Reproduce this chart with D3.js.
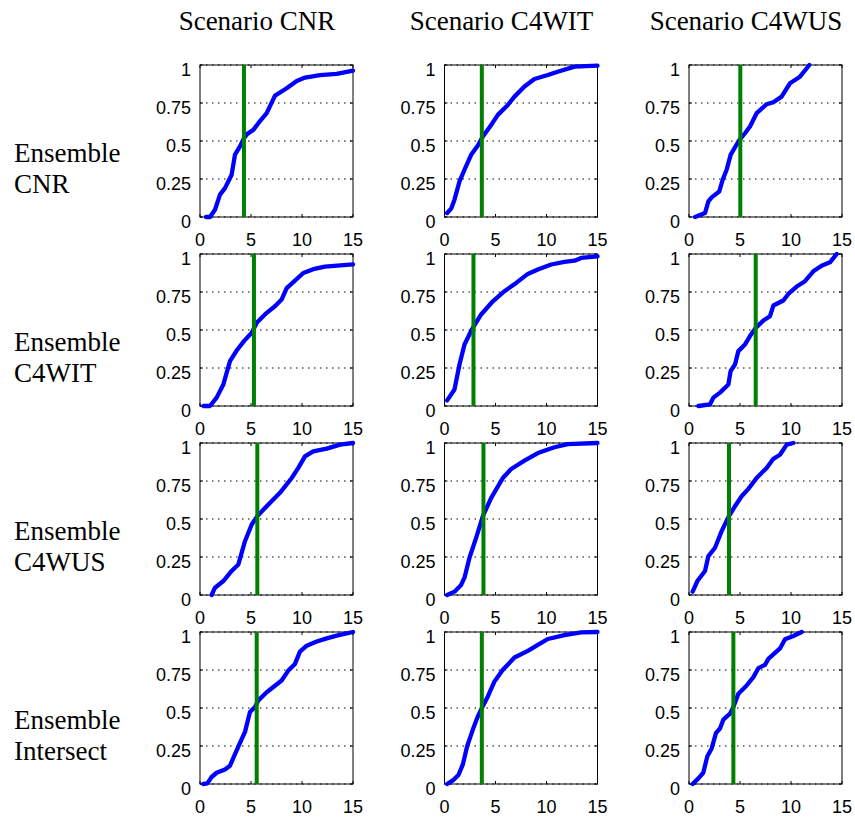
<!DOCTYPE html>
<meta charset="utf-8">
<style>
body { margin: 0; background: #fff; }
.tick-label { font-family: "Liberation Sans", Arial, sans-serif; font-size: 18px; fill: #000; }
.title { font-family: "Liberation Serif", "Times New Roman", serif; font-size: 27px; fill: #000; }
.grid { stroke: #000; stroke-width: 1; stroke-dasharray: 1.5,4.5; }
.frame { fill: none; stroke: #000; stroke-width: 1; }
.cdf { fill: none; stroke: #0000ff; stroke-width: 4.3; stroke-linejoin: round; stroke-linecap: round; }
.median { stroke: #008000; stroke-width: 4; }
</style>
<svg width="855" height="823"></svg>
<script src="https://cdn.jsdelivr.net/npm/d3@7"></script>
<script>
var colTitles = ["Scenario CNR", "Scenario C4WIT", "Scenario C4WUS"];
var rowTitles = [["Ensemble", "CNR"], ["Ensemble", "C4WIT"], ["Ensemble", "C4WUS"], ["Ensemble", "Intersect"]];
var xTicks = [0, 5, 10, 15];
var yTicks = [0, 0.25, 0.5, 0.75, 1];
var yTickLabels = ["0", "0.25", "0.5", "0.75", "1"];

// cdf curves, [x, y] pairs, row = ensemble, col = scenario
var cnr_cnr = [[0.59,0],[0.98,0],[1.47,0.048],[1.96,0.147],[2.45,0.19],[3.1,0.278],[3.43,0.41],[3.92,0.464],[4.31,0.519],[4.64,0.547],[5.23,0.573],[5.72,0.617],[6.54,0.683],[7.35,0.799],[8.5,0.847],[9.48,0.895],[10.3,0.917],[11.76,0.934],[13.4,0.941],[15,0.963]];
var cnr_c4wit = [[0.26,0.026],[0.65,0.055],[0.98,0.114],[1.47,0.234],[1.96,0.311],[2.61,0.409],[3.27,0.47],[3.76,0.53],[4.58,0.606],[5.23,0.672],[6.21,0.737],[6.86,0.792],[7.84,0.858],[8.82,0.908],[10.13,0.934],[11.1,0.956],[12.75,0.989],[15,0.996]];
var cnr_c4wus = [[0.59,0],[1.57,0.026],[1.9,0.103],[2.22,0.129],[2.97,0.168],[3.3,0.245],[3.69,0.311],[4.08,0.409],[4.84,0.497],[5.49,0.551],[5.98,0.595],[6.63,0.683],[7.61,0.742],[8.27,0.755],[9.08,0.792],[9.9,0.88],[10.88,0.923],[11.8,1]];
var c4wit_cnr = [[0.33,0],[0.98,0],[1.63,0.055],[2.29,0.142],[2.94,0.295],[3.59,0.365],[4.31,0.427],[5.07,0.482],[5.56,0.547],[6.54,0.613],[7.35,0.656],[8.0,0.7],[8.5,0.776],[9.31,0.825],[10.13,0.875],[11.1,0.9],[12.25,0.917],[15,0.932]];
var c4wit_c4wit = [[0.26,0.037],[0.98,0.109],[1.47,0.273],[1.96,0.405],[2.68,0.503],[3.59,0.602],[4.74,0.689],[5.88,0.755],[7.03,0.81],[8.17,0.869],[9.15,0.898],[10.46,0.931],[11.76,0.948],[12.75,0.956],[13.4,0.974],[15,0.985]];
var c4wit_c4wus = [[0.92,0],[2.06,0.011],[2.39,0.055],[3.04,0.088],[3.86,0.142],[4.08,0.23],[4.51,0.273],[4.84,0.361],[5.49,0.405],[5.98,0.46],[6.54,0.514],[7.29,0.562],[7.94,0.591],[8.27,0.661],[9.25,0.694],[9.74,0.737],[10.56,0.786],[11.37,0.821],[12.19,0.886],[13.0,0.923],[13.82,0.945],[14.48,1]];
var c4wus_cnr = [[1.14,0],[1.47,0.048],[2.29,0.092],[3.1,0.158],[3.76,0.201],[4.41,0.354],[5.07,0.464],[5.62,0.519],[6.54,0.584],[7.84,0.672],[8.99,0.77],[9.64,0.836],[10.29,0.912],[11.1,0.945],[12.42,0.963],[13.73,0.989],[15,1]];
var c4wus_c4wit = [[0.26,0],[0.98,0.022],[1.63,0.066],[1.96,0.114],[2.45,0.245],[3.1,0.376],[3.76,0.519],[4.58,0.639],[5.72,0.77],[6.54,0.829],[7.84,0.884],[9.15,0.934],[10.78,0.972],[12.09,0.993],[15,1]];
var c4wus_c4wus = [[0.36,0.022],[0.82,0.092],[1.57,0.158],[1.9,0.256],[2.55,0.311],[3.2,0.42],[3.86,0.512],[4.51,0.584],[5.16,0.65],[5.82,0.698],[6.63,0.77],[7.61,0.836],[8.27,0.896],[8.92,0.923],[9.58,0.989],[10.23,1]];
var inter_cnr = [[0.33,0],[0.72,0.004],[1.14,0.046],[1.63,0.074],[2.45,0.096],[2.94,0.12],[3.27,0.172],[3.92,0.271],[4.41,0.343],[4.9,0.474],[5.39,0.507],[5.72,0.55],[6.54,0.604],[8.0,0.681],[8.66,0.746],[9.31,0.79],[9.8,0.871],[10.46,0.91],[11.44,0.937],[12.42,0.958],[13.4,0.976],[15,1]];
var inter_c4wit = [[0.26,0],[0.82,0.024],[1.37,0.059],[1.8,0.129],[2.22,0.249],[2.78,0.358],[3.27,0.445],[3.69,0.504],[4.25,0.576],[4.9,0.675],[5.72,0.751],[6.86,0.832],[8.17,0.876],[9.15,0.915],[10.13,0.954],[11.76,0.98],[13.4,0.998],[15,1]];
var inter_c4wus = [[0.36,0],[0.92,0.037],[1.4,0.074],[1.8,0.183],[2.22,0.234],[2.65,0.336],[3.04,0.365],[3.37,0.424],[4.02,0.463],[4.35,0.507],[4.84,0.594],[5.65,0.648],[6.31,0.703],[6.8,0.762],[7.45,0.784],[7.78,0.823],[8.92,0.892],[9.41,0.952],[10.23,0.974],[11.05,1]];

var curves = [
  [cnr_cnr, cnr_c4wit, cnr_c4wus],
  [c4wit_cnr, c4wit_c4wit, c4wit_c4wus],
  [c4wus_cnr, c4wus_c4wit, c4wus_c4wus],
  [inter_cnr, inter_c4wit, inter_c4wus]
];
// median (green line) per panel
var medians = [
  [4.31, 3.66, 5.03],
  [5.29, 2.84, 6.54],
  [5.62, 3.82, 3.92],
  [5.56, 3.66, 4.35]
];

var svg = d3.select("svg"),
    left0 = 200, top0 = 65,
    colStep = 244.5, rowStep = 189,
    width = 153, height = 152;

var x = d3.scaleLinear().domain([0, 15]).range([0, width]),
    y = d3.scaleLinear().domain([0, 1]).range([height, 0]);

var line = d3.line()
    .x(function(d) { return x(d[0]); })
    .y(function(d) { return y(d[1]); });

// column titles
svg.selectAll(".col-title")
  .data(colTitles)
  .enter().append("text")
    .attr("class", "title")
    .attr("x", function(d, i) { return left0 + i * colStep + 57; })
    .attr("y", 30)
    .attr("text-anchor", "middle")
    .text(function(d) { return d; });

// row titles
rowTitles.forEach(function(lines, r) {
  var t = svg.append("text")
      .attr("class", "title")
      .attr("x", 14)
      .attr("y", top0 + r * rowStep + 97);
  t.append("tspan").attr("x", 14).text(lines[0]);
  t.append("tspan").attr("x", 14).attr("dy", 31).text(lines[1]);
});

curves.forEach(function(row, r) {
  row.forEach(function(data, c) {
    var g = svg.append("g")
        .attr("transform", "translate(" + (left0 + c * colStep) + "," + (top0 + r * rowStep) + ")");

    g.selectAll(".grid")
      .data(yTicks)
      .enter().append("line")
        .attr("class", "grid")
        .attr("x1", 0)
        .attr("x2", width)
        .attr("y1", function(d) { return y(d); })
        .attr("y2", function(d) { return y(d); });

    g.append("rect")
        .attr("class", "frame")
        .attr("x", 0)
        .attr("y", 0)
        .attr("width", width)
        .attr("height", height);

    // inward ticks on all four sides
    g.selectAll(".xt")
      .data(xTicks)
      .enter().append("path")
        .attr("stroke", "#000")
        .attr("d", function(d) { return "M" + x(d) + "," + height + "v-3M" + x(d) + ",0v3"; });
    g.selectAll(".yt")
      .data(yTicks)
      .enter().append("path")
        .attr("stroke", "#000")
        .attr("d", function(d) { return "M0," + y(d) + "h3M" + width + "," + y(d) + "h-3"; });

    g.selectAll(".xl")
      .data(xTicks)
      .enter().append("text")
        .attr("class", "tick-label")
        .attr("x", function(d) { return x(d); })
        .attr("y", height + 29)
        .attr("text-anchor", "middle")
        .text(function(d) { return d; });

    g.selectAll(".yl")
      .data(yTicks)
      .enter().append("text")
        .attr("class", "tick-label")
        .attr("x", -9)
        .attr("y", function(d) { return y(d) + 11; })
        .attr("text-anchor", "end")
        .text(function(d, i) { return yTickLabels[i]; });

    g.append("path")
        .datum(data)
        .attr("class", "cdf")
        .attr("d", line);

    g.append("line")
        .attr("class", "median")
        .attr("x1", x(medians[r][c]))
        .attr("x2", x(medians[r][c]))
        .attr("y1", y(0))
        .attr("y2", y(1));
  });
});
</script>
